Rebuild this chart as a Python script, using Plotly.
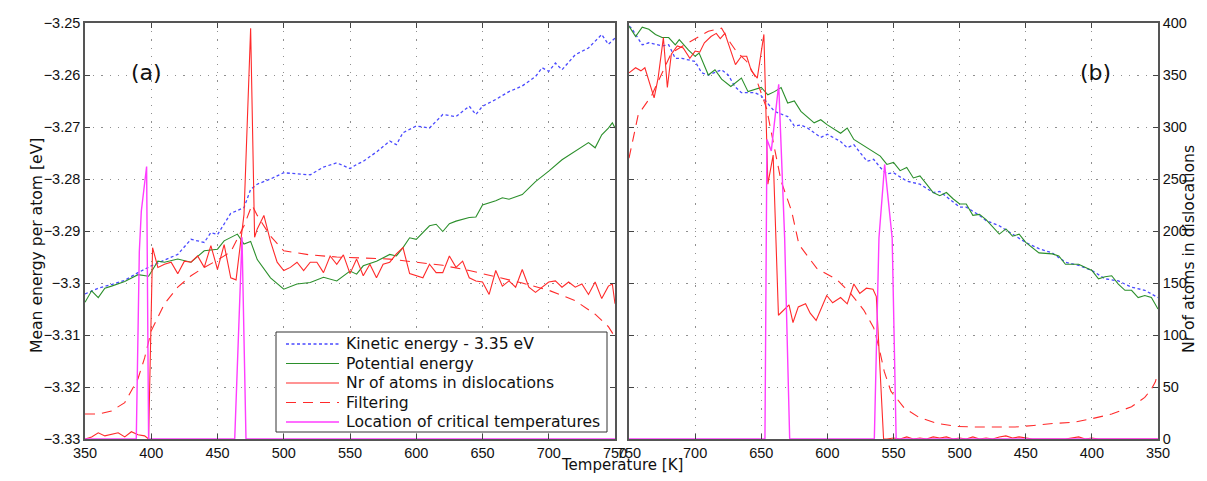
import plotly.graph_objects as go

# ---------------- data: panel (a) heating 350 -> 750 K ----------------
kin_a_T = [350,360,370,380,390,400,410,420,430,440,445,450,460,470,475,480,490,500,510,520,
           530,540,550,555,560,570,580,585,590,600,610,620,630,640,645,650,660,670,680,690,
           695,700,705,710,720,730,740,745,750]
kin_a = [-3.3021,-3.3010,-3.3003,-3.2995,-3.2980,-3.2967,-3.2956,-3.2945,-3.2916,-3.2922,
         -3.2903,-3.2907,-3.2866,-3.2855,-3.2820,-3.2810,-3.2800,-3.2788,-3.2790,-3.2792,
         -3.2777,-3.2769,-3.2780,-3.2772,-3.2766,-3.2748,-3.2727,-3.2734,-3.2711,-3.2698,
         -3.2702,-3.2676,-3.2680,-3.2660,-3.2676,-3.2660,-3.2647,-3.2632,-3.2621,-3.2603,
         -3.2586,-3.2593,-3.2577,-3.2590,-3.2561,-3.2548,-3.2522,-3.2541,-3.2529]

pot_a_T = [350,355,360,365,370,380,390,398,405,410,420,430,440,450,455,465,470,475,480,490,
           500,510,520,530,540,550,555,560,570,580,585,590,595,600,610,615,620,625,630,640,
           645,650,660,665,670,680,690,700,710,720,730,735,740,745,748,750]
pot_a = [-3.3037,-3.3015,-3.3028,-3.3010,-3.3006,-3.2997,-3.2984,-3.2987,-3.2958,-3.2960,
         -3.2954,-3.2960,-3.2938,-3.2935,-3.2919,-3.2906,-3.2925,-3.2920,-3.2955,-3.2990,
         -3.3012,-3.3002,-3.2999,-3.2989,-3.2996,-3.2977,-3.2983,-3.2967,-3.2958,-3.2945,
         -3.2948,-3.2932,-3.2913,-3.2916,-3.2890,-3.2887,-3.2901,-3.2886,-3.2881,-3.2874,
         -3.2873,-3.2850,-3.2842,-3.2836,-3.2839,-3.2830,-3.2805,-3.2785,-3.2763,-3.2746,
         -3.2730,-3.2740,-3.2715,-3.2702,-3.2692,-3.2702]

disl_a_T = [350,355,360,365,375,380,385,390,395,398,401,405,410,415,420,425,430,435,440,445,
            450,455,460,464,470,475,478,480,485,490,495,
            500,505,510,515,520,525,530,535,540,545,550,555,560,565,570,575,580,585,590,595,
            600,605,610,615,620,625,630,635,640,645,650,655,660,665,670,675,680,685,690,695,
            700,705,710,715,720,725,730,735,740,745,748,750]
disl_a = [0,2,6,3,6,2,7,4,3,0,184,165,168,170,159,171,170,176,165,186,
          163,187,155,153,216,395,194,202,215,190,170,
          162,165,170,162,170,170,160,176,168,177,159,173,157,168,155,168,170,178,184,159,
          157,155,168,160,160,176,165,171,155,152,151,139,162,147,152,146,163,146,141,146,
          151,152,146,151,146,149,139,151,135,147,149,130]

filt_a_T = [350,360,370,380,390,395,400,410,420,430,440,450,460,470,476,480,490,500,520,540,
            560,580,600,620,640,660,680,700,720,735,745,750]
filt_a = [24,24,27,35,58,78,104,130,146,157,165,172,180,205,225,215,195,181,177,175,
          174,173,170,167,162,156,150,143,133,120,108,98]

crit_a_T = [350,388.7,391,392.5,396.5,398,463,468.5,471.5,750]
crit_a = [0,0,180,219,262,0,0,194,0,0]

# ---------------- data: panel (b) cooling 750 -> 350 K ----------------
kin_b_T = [750,748,740,735,725,720,715,710,700,695,690,680,675,670,665,655,650,640,630,625,
           620,615,605,600,590,585,580,570,565,560,555,550,540,530,520,515,500,495,485,480,
           470,460,450,440,430,420,410,400,390,380,370,360,350]
kin_b = [-3.2506,-3.2510,-3.2542,-3.2538,-3.2544,-3.2542,-3.2568,-3.2568,-3.2574,-3.2596,
         -3.2600,-3.2590,-3.2600,-3.2622,-3.2634,-3.2634,-3.2640,-3.2670,-3.2680,-3.2698,
         -3.2696,-3.2702,-3.2720,-3.2714,-3.2728,-3.2740,-3.2734,-3.2766,-3.2762,-3.2778,
         -3.2790,-3.2788,-3.2804,-3.2810,-3.2826,-3.2824,-3.2854,-3.2854,-3.2870,-3.2880,
         -3.2890,-3.2906,-3.2922,-3.2934,-3.2942,-3.2960,-3.2966,-3.2976,-3.2992,-3.2996,
         -3.3008,-3.3014,-3.3028]

pot_b_T = [750,745,740,735,730,725,720,715,712,705,700,697,690,685,680,673,665,660,650,645,
           640,635,630,625,620,610,605,600,590,585,580,570,560,555,550,545,540,535,530,525,
           520,515,510,505,500,495,490,485,480,470,465,460,455,450,440,430,425,420,410,400,
           395,390,385,380,375,370,365,360,355,350]
pot_b = [-3.2506,-3.2526,-3.2508,-3.2512,-3.2522,-3.2528,-3.2528,-3.2542,-3.2532,-3.2552,
         -3.2564,-3.2558,-3.2600,-3.2590,-3.2608,-3.2622,-3.2606,-3.2632,-3.2624,-3.2638,
         -3.2632,-3.2624,-3.2654,-3.2650,-3.2670,-3.2692,-3.2686,-3.2696,-3.2712,-3.2702,
         -3.2724,-3.2740,-3.2756,-3.2772,-3.2768,-3.2784,-3.2778,-3.2798,-3.2794,-3.2810,
         -3.2826,-3.2832,-3.2826,-3.2838,-3.2848,-3.2848,-3.2870,-3.2868,-3.2878,-3.2906,
         -3.2896,-3.2910,-3.2906,-3.2922,-3.2942,-3.2944,-3.2948,-3.2964,-3.2964,-3.2976,
         -3.2992,-3.2988,-3.2986,-3.3002,-3.3014,-3.3014,-3.3028,-3.3024,-3.3028,-3.3050]

disl_b_T = [750,745,741,738,731,728,724,721,718,713.5,709,704,700,696.5,693,688,684,681,677.5,672.5,
            669.5,665,661,657.5,653,648,645,641,637,629,626,622,616.5,613,608.5,600.5,596,590,585,580,
            575.5,570.5,565.5,563,557.5,555,550,545,540,535,530,525,520,515,510,505,500,495,490,485,
            480,475,470,465,460,455,450,445,440,430,420,410,405,400,395,390,380,370,360,350]
disl_b = [352,357,354,357,328,347,386,338,370,378,376,366,373,372,381,387,390,385,390,370,
          360,368,368,354,347,389,245,273,119,129,112,127,130,121,114,138,131,136,130,149,
          140,145,144,137,0,0,1,0,2,0,1,0,2,1,2,0,1,0,2,0,
          1,0,2,3,1,2,1,0,0,0,0,2,0,1,0,0,0,0,0,0]

filt_b_T = [750,743,733,718,708,690,680,675,669,661,654,646,641,635,627,621.5,608,592.5,582.5,572.5,
            565,561,557,552,542,531,517,502,487,473,458,444,429,414,400,385,370,360,355,352,350]
filt_b = [270,312,330,371,379,392,395,384,373,363,347,318,286,248,219,187,164,153,140,124,
          107,88,65,46,30,21,15,12,11.5,11.5,11.5,13,15,16,19.5,24,31,40,48,55,64]

crit_b_T = [750,647.2,645.7,642.4,636.8,632.3,628.5,564.5,561,556.7,551,548,350]
crit_b = [0,0,288,277,341,193,0,0,193,264,193,0,0]

# tick labels
temp_ticks = [350,400,450,500,550,600,650,700,750]
energy_ticks = [-3.33,-3.32,-3.31,-3.30,-3.29,-3.28,-3.27,-3.26,-3.25]
energy_text = ["\u22123.33","\u22123.32","\u22123.31","\u22123.3","\u22123.29","\u22123.28",
               "\u22123.27","\u22123.26","\u22123.25"]
count_ticks = [0,50,100,150,200,250,300,350,400]

names = ["Kinetic energy - 3.35 eV","Potential energy","Nr of atoms in dislocations",
         "Filtering","Location of critical temperatures"]

C_KIN = "#4a4aff"
C_POT = "#2b8f2b"
C_RED = "#ff2a2a"
C_MAG = "#ff3cff"
FONT = "DejaVu Sans"
TICKFONT = dict(family="Liberation Sans", size=14.5, color="#111")
styles = [dict(color=C_KIN, width=1.3, dash="3px,2.5px"),
          dict(color=C_POT, width=1.1),
          dict(color=C_RED, width=1.1),
          dict(color=C_RED, width=1.1, dash="10px,7px"),
          dict(color=C_MAG, width=1.4)]

fig = go.Figure()

def add_panel(xa, ye, yc, kT, k, pT, p, dT, d, fT, f, cT, c):
    series = [(kT, k, ye), (pT, p, ye), (dT, d, yc), (fT, f, yc), (cT, c, yc)]
    for i, (sx, sy, ya) in enumerate(series):
        fig.add_trace(go.Scatter(x=sx, y=sy, xaxis=xa, yaxis=ya, mode="lines", name=names[i],
                                 showlegend=False, line=styles[i]))

add_panel("x", "y", "y2", kin_a_T, kin_a, pot_a_T, pot_a, disl_a_T, disl_a, filt_a_T, filt_a,
          crit_a_T, crit_a)
add_panel("x2", "y3", "y4", kin_b_T, kin_b, pot_b_T, pot_b, disl_b_T, disl_b, filt_b_T, filt_b,
          crit_b_T, crit_b)

common = dict(showline=True, linecolor="#555", linewidth=1.5, ticks="inside", ticklen=5,
              tickcolor="#444", tickwidth=1, showgrid=True, gridcolor="#8f8f8f", gridwidth=1,
              griddash="1.2px,7px", zeroline=False, automargin=False, tickfont=TICKFONT)

L, R, T, B = 77, 57, 15, 50
W, H = 1207, 481
pw = W - L - R
ph = H - T - B
d1 = (607 - L) / pw
d2 = (621 - L) / pw

def px(xp):
    return (xp - L) / pw

def py(yp):
    return (H - B - yp) / ph

# legend drawn as a framed box in the lower right of panel (a)
shapes = [dict(type="rect", xref="paper", yref="paper", x0=px(268), x1=px(599), y0=py(424),
               y1=py(324), line=dict(color="#333", width=1), fillcolor="white", layer="above")]
annotations = []
entry_y = [336, 355.5, 375, 394.5, 414]
for i, ey in enumerate(entry_y):
    shapes.append(dict(type="line", xref="paper", yref="paper", x0=px(278), x1=px(331),
                       y0=py(ey), y1=py(ey), line=styles[i], layer="above"))
    annotations.append(dict(text=names[i], x=px(336), y=py(ey), xref="paper", yref="paper",
                            xanchor="left", yanchor="middle", showarrow=False,
                            font=dict(family=FONT, size=15.6, color="#111")))

annotations += [
    dict(text="(a)", x=px(121), y=py(50), xref="paper", yref="paper", showarrow=False,
         font=dict(family=FONT, size=22, color="#111")),
    dict(text="(b)", x=px(1105), y=py(50), xref="paper", yref="paper", showarrow=False,
         font=dict(family=FONT, size=22, color="#111")),
    dict(text="Temperature [K]", x=px(613.5), y=py(468), xref="paper", yref="paper",
         showarrow=False, font=dict(family=FONT, size=15, color="#111")),
    dict(text="Mean energy per atom [eV]", x=px(18), y=py(238), xref="paper", yref="paper",
         showarrow=False, textangle=-90, font=dict(family=FONT, size=15.6, color="#111")),
    dict(text="Nr of atoms in dislocations", x=px(1192), y=py(241), xref="paper", yref="paper",
         showarrow=False, textangle=-90, font=dict(family=FONT, size=15.6, color="#111")),
]

fig.update_layout(
    template="none",
    width=W, height=H, margin=dict(l=L, r=R, t=T, b=B, autoexpand=False), autosize=False,
    paper_bgcolor="white", plot_bgcolor="white", showlegend=False,
    font=dict(family=FONT, color="#111"),
    xaxis=dict(common, domain=[0, d1], anchor="y", range=[350, 750], tickvals=temp_ticks,
               mirror="ticks"),
    yaxis=dict(common, domain=[0, 1], anchor="x", range=[-3.33, -3.25], tickvals=energy_ticks,
               ticktext=energy_text, mirror="ticks"),
    yaxis2=dict(overlaying="y", anchor="x", range=[0, 400], visible=False),
    xaxis2=dict(common, domain=[d2, 1], anchor="y3", range=[750, 350], tickvals=temp_ticks,
                mirror="ticks"),
    yaxis3=dict(common, domain=[0, 1], anchor="x2", range=[-3.33, -3.25], tickvals=energy_ticks,
                showticklabels=False, mirror="ticks"),
    yaxis4=dict(common, overlaying="y3", anchor="x2", side="right", range=[0, 400],
                tickvals=count_ticks, showgrid=False, mirror=False),
    shapes=shapes,
    annotations=annotations,
)

fig.write_html("out.html")
